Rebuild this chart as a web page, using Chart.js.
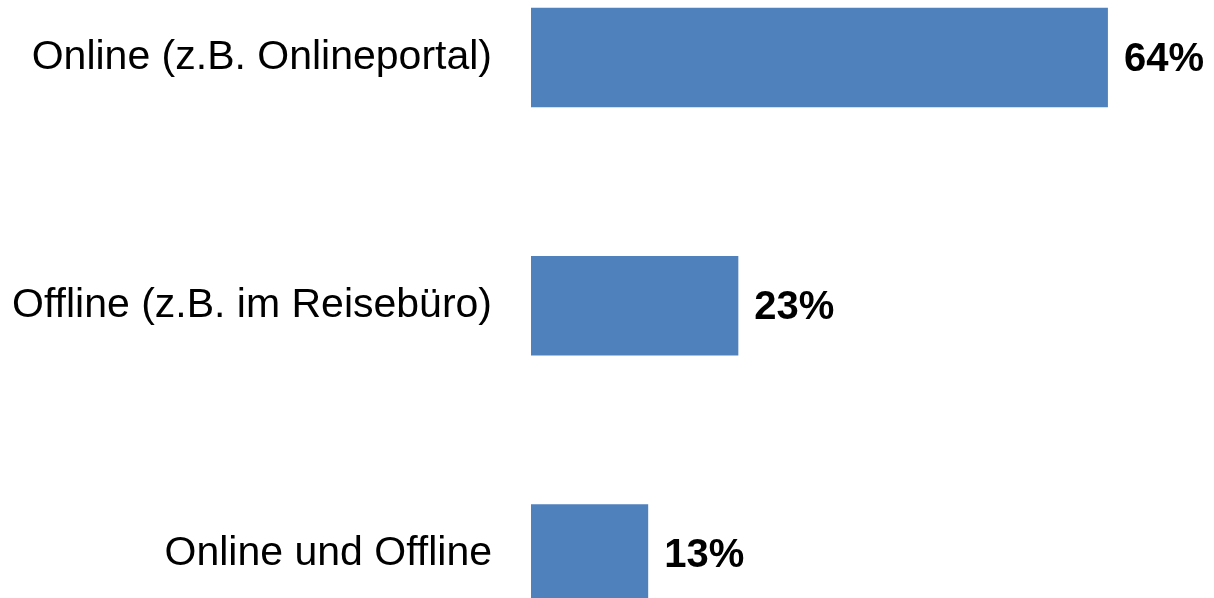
<!DOCTYPE html>
<html>
<head>
<meta charset="utf-8">
<script src="https://cdn.jsdelivr.net/npm/chart.js@4"></script>
<style>
html,body{margin:0;padding:0;background:#fff;overflow:hidden;}
#wrap{position:relative;width:1214px;height:598px;}
</style>
</head>
<body>
<div id="wrap"><canvas id="c"></canvas></div>
<script>
const categories = ["Online (z.B. Onlineportal)", "Offline (z.B. im Reisebüro)", "Online und Offline"];
const values = [64, 23, 13];
const valueLabels = ["64%", "23%", "13%"];

const labelPlugin = {
  id: 'valueLabels',
  afterDatasetsDraw(chart) {
    const ctx = chart.ctx;
    const meta = chart.getDatasetMeta(0);
    ctx.save();
    ctx.font = 'bold 40px "Liberation Sans", Arial, sans-serif';
    ctx.fillStyle = '#000';
    ctx.textAlign = 'left';
    ctx.textBaseline = 'middle';
    meta.data.forEach((bar, i) => {
      ctx.fillText(valueLabels[i], bar.x + 16, bar.y + 2);
    });
    ctx.restore();
  }
};

new Chart(document.getElementById('c'), {
  type: 'bar',
  data: {
    labels: categories,
    datasets: [{
      data: values,
      backgroundColor: '#4F81BD',
      borderWidth: 0,
      categoryPercentage: 0.4,
      barPercentage: 1,
      clip: false
    }]
  },
  options: {
    indexAxis: 'y',
    responsive: true,
    maintainAspectRatio: false,
    animation: false,
    layout: { padding: { top: 57.5, bottom: 44, left: 0, right: 52 } },
    plugins: { legend: { display: false }, tooltip: { enabled: false } },
    scales: {
      x: { display: false, min: 0, max: 70 },
      y: {
        offset: false,
        grid: { display: false, drawTicks: false },
        border: { display: false },
        afterFit(scale) { scale.width = 531; },
        ticks: {
          padding: 39,
          color: '#000',
          font: { family: '"Liberation Sans", Arial, sans-serif', size: 41, lineHeight: 0.2 }
        }
      }
    }
  },
  plugins: [labelPlugin]
});
</script>
</body>
</html>
